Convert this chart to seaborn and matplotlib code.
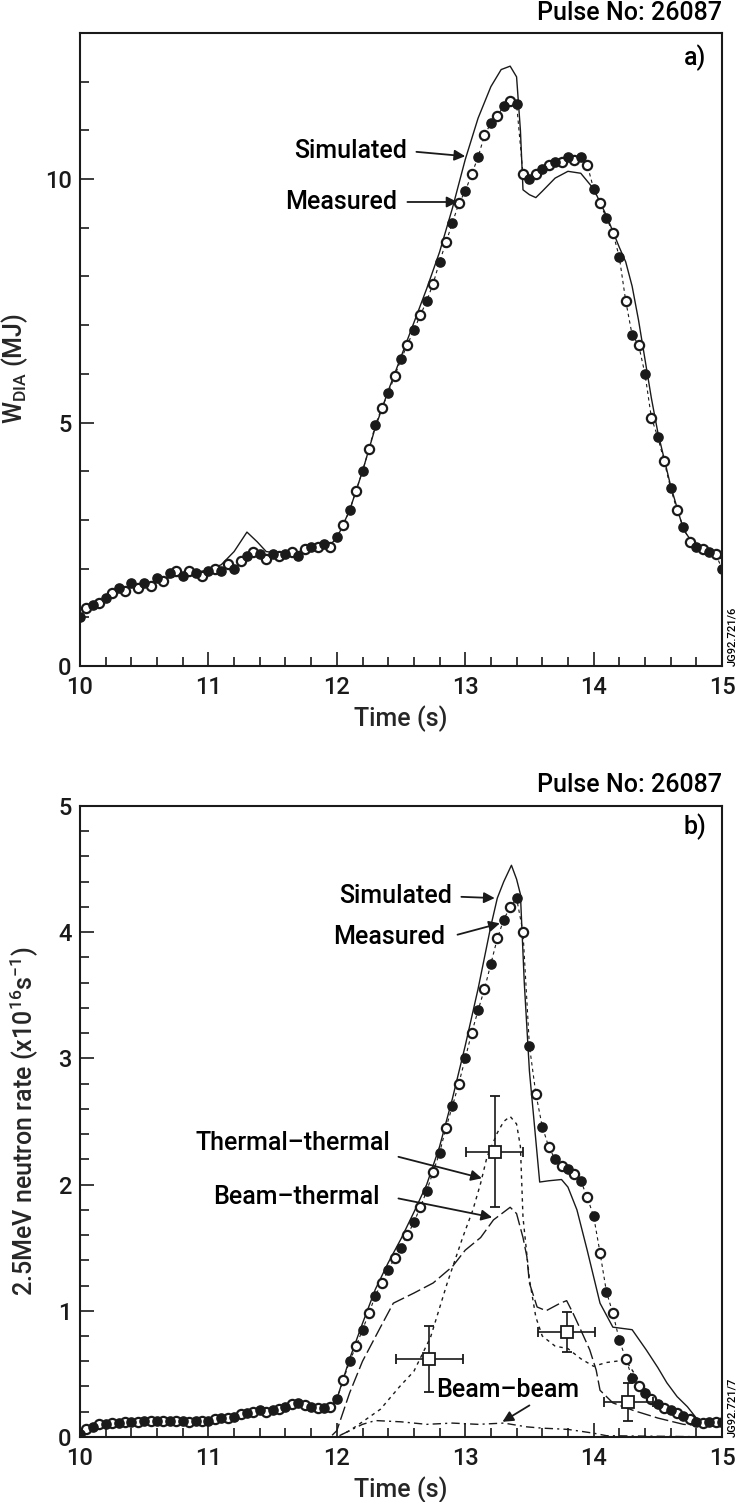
import numpy as np
import pandas as pd
import matplotlib
matplotlib.use("Agg")
import matplotlib.pyplot as plt
from matplotlib.ticker import MultipleLocator
import seaborn as sns

# ---------------- panel a) : diamagnetic energy ----------------
a_meas_t = [10.00, 10.05, 10.10, 10.15, 10.20, 10.25, 10.30, 10.35, 10.40, 10.45,
            10.50, 10.55, 10.60, 10.65, 10.70, 10.75, 10.80, 10.85, 10.90, 10.95,
            11.00, 11.05, 11.10, 11.15, 11.20, 11.25, 11.30, 11.35, 11.40, 11.45,
            11.50, 11.55, 11.60, 11.65, 11.70, 11.75, 11.80, 11.85, 11.90, 11.95,
            12.00, 12.05, 12.10, 12.15, 12.20, 12.25, 12.30, 12.35, 12.40, 12.45,
            12.50, 12.55, 12.60, 12.65, 12.70, 12.75, 12.80, 12.85, 12.90, 12.95,
            13.00, 13.05, 13.10, 13.15, 13.20, 13.25, 13.30, 13.35, 13.40, 13.45,
            13.50, 13.55, 13.60, 13.65, 13.70, 13.75, 13.80, 13.85, 13.90, 13.95,
            14.00, 14.05, 14.10, 14.15, 14.20, 14.25, 14.30, 14.35, 14.40, 14.45,
            14.50, 14.55, 14.60, 14.65, 14.70, 14.75, 14.80, 14.85, 14.90, 14.95,
            15.00]
a_meas_w = [1.00, 1.20, 1.25, 1.30, 1.40, 1.50, 1.60, 1.55, 1.70, 1.60,
            1.70, 1.65, 1.80, 1.75, 1.90, 1.95, 1.85, 1.95, 1.90, 1.85,
            1.95, 2.00, 1.95, 2.10, 2.00, 2.15, 2.25, 2.35, 2.30, 2.20,
            2.30, 2.25, 2.30, 2.35, 2.25, 2.40, 2.45, 2.45, 2.50, 2.45,
            2.65, 2.90, 3.20, 3.60, 4.00, 4.45, 4.95, 5.30, 5.60, 5.95,
            6.30, 6.60, 6.90, 7.20, 7.50, 7.85, 8.30, 8.70, 9.10, 9.50,
            9.75, 10.10, 10.45, 10.90, 11.15, 11.30, 11.50, 11.60, 11.55, 10.10,
            10.00, 10.10, 10.20, 10.30, 10.35, 10.35, 10.45, 10.40, 10.45, 10.30,
            9.80, 9.50, 9.20, 8.90, 8.40, 7.50, 6.80, 6.60, 6.00, 5.10,
            4.70, 4.20, 3.65, 3.20, 2.85, 2.55, 2.45, 2.40, 2.35, 2.30,
            2.00]
a_sim_t = [10.0, 10.2, 10.4, 10.6, 10.8, 11.0, 11.1, 11.2, 11.3, 11.38, 11.45,
           11.6, 11.8, 11.95, 12.0, 12.1, 12.2, 12.3, 12.4, 12.5, 12.6, 12.7,
           12.8, 12.9, 13.0, 13.1, 13.2, 13.28, 13.35, 13.40, 13.43, 13.45,
           13.50, 13.55, 13.60, 13.70, 13.80, 13.90, 14.00, 14.10, 14.20,
           14.25, 14.30, 14.35, 14.40, 14.45, 14.50, 14.60, 14.70, 14.80,
           14.90, 15.00]
a_sim_w = [1.05, 1.40, 1.62, 1.75, 1.88, 1.97, 2.08, 2.35, 2.75, 2.55, 2.35,
           2.30, 2.40, 2.50, 2.62, 3.20, 4.00, 4.90, 5.65, 6.35, 7.05, 7.75,
           8.50, 9.40, 10.40, 11.25, 11.90, 12.25, 12.32, 12.10, 11.00, 9.78,
           9.68, 9.62, 9.75, 10.02, 10.16, 10.12, 9.80, 9.25, 8.60,
           8.30, 7.80, 7.10, 6.30, 5.50, 4.80, 3.70, 2.80, 2.42,
           2.30, 2.20]

# ---------------- panel b) : 2.5 MeV neutron rate ----------------
b_meas_t = a_meas_t
b_meas_r = [0.02, 0.06, 0.08, 0.10, 0.10, 0.11, 0.11, 0.12, 0.12, 0.12,
            0.13, 0.13, 0.13, 0.13, 0.13, 0.13, 0.13, 0.12, 0.13, 0.13,
            0.13, 0.14, 0.15, 0.15, 0.16, 0.18, 0.19, 0.20, 0.21, 0.20,
            0.21, 0.22, 0.24, 0.26, 0.27, 0.25, 0.24, 0.23, 0.23, 0.24,
            0.30, 0.45, 0.60, 0.72, 0.85, 0.98, 1.12, 1.22, 1.32, 1.42,
            1.50, 1.60, 1.70, 1.82, 1.95, 2.10, 2.25, 2.45, 2.62, 2.80,
            3.00, 3.20, 3.38, 3.55, 3.75, 3.95, 4.10, 4.20, 4.27, 4.00,
            3.10, 2.72, 2.46, 2.30, 2.20, 2.15, 2.12, 2.08, 2.03, 1.90,
            1.75, 1.46, 1.15, 0.98, 0.77, 0.62, 0.47, 0.40, 0.35, 0.30,
            0.26, 0.23, 0.21, 0.19, 0.17, 0.14, 0.12, 0.11, 0.12, 0.12,
            0.12]
b_sim_t = [10.0, 10.1, 10.3, 10.6, 11.0, 11.3, 11.7, 11.95, 12.0, 12.1, 12.2,
           12.3, 12.4, 12.5, 12.6, 12.7, 12.8, 12.9, 13.0, 13.1, 13.2, 13.25,
           13.3, 13.36, 13.40, 13.43, 13.46, 13.50, 13.55, 13.58, 13.65, 13.75,
           13.80, 13.87, 13.95, 14.05, 14.15, 14.30, 14.41, 14.50, 14.57,
           14.65, 14.73, 14.80, 14.90, 15.00]
b_sim_r = [0.02, 0.08, 0.11, 0.13, 0.13, 0.19, 0.27, 0.23, 0.30, 0.62, 0.90,
           1.17, 1.38, 1.57, 1.78, 2.00, 2.30, 2.68, 3.10, 3.55, 4.05, 4.27,
           4.40, 4.53, 4.42, 4.30, 3.60, 2.90, 2.35, 2.02, 2.03, 2.04,
           1.98, 1.80, 1.48, 1.06, 0.87, 0.85, 0.69, 0.55, 0.43,
           0.32, 0.24, 0.15, 0.11, 0.11]
bt_t = [10.0, 11.95, 12.0, 12.05, 12.1, 12.2, 12.34, 12.44, 12.6, 12.75, 12.9,
        13.0, 13.12, 13.22, 13.35, 13.4, 13.45, 13.48, 13.5, 13.56, 13.63,
        13.74, 13.79, 13.84, 13.89, 13.97, 14.02, 14.05, 14.15, 14.31, 14.5,
        14.7, 15.0]
bt_r = [0.0, 0.0, 0.05, 0.20, 0.35, 0.60, 0.87, 1.06, 1.14, 1.22, 1.35,
        1.48, 1.58, 1.72, 1.82, 1.77, 1.58, 1.43, 1.22, 1.03, 1.00,
        1.06, 1.08, 0.98, 0.87, 0.69, 0.53, 0.37, 0.27, 0.21, 0.15,
        0.10, 0.08]
tt_t = [10.0, 12.0, 12.1, 12.2, 12.34, 12.49, 12.6, 12.73, 12.86, 12.98, 13.06,
        13.12, 13.17, 13.25, 13.3, 13.35, 13.4, 13.43, 13.45, 13.5, 13.55,
        13.6, 13.7, 13.8, 13.9, 14.0, 14.1, 14.25, 14.35, 14.45, 14.6, 14.8,
        15.0]
tt_r = [0.0, 0.0, 0.05, 0.12, 0.22, 0.40, 0.52, 0.79, 1.22, 1.58, 1.80,
        2.01, 2.22, 2.41, 2.50, 2.54, 2.48, 2.30, 1.74, 1.25, 0.95,
        0.80, 0.72, 0.70, 0.62, 0.56, 0.59, 0.61, 0.45, 0.32, 0.20, 0.12,
        0.10]
bb_t = [10.0, 12.0, 12.1, 12.2, 12.3, 12.5, 12.7, 12.9, 13.1, 13.3, 13.48,
        13.6, 13.8, 14.0, 14.1, 15.0]
bb_r = [0.0, 0.0, 0.05, 0.10, 0.13, 0.12, 0.10, 0.11, 0.10, 0.11, 0.08,
        0.07, 0.06, 0.03, 0.01, 0.0]
# neutron-spectrometer points with error bars
err_t = [12.72, 13.23, 13.79, 14.27]
err_r = [0.62, 2.26, 0.83, 0.28]
err_dt = [0.26, 0.22, 0.22, 0.19]
err_dr = [0.26, 0.44, 0.16, 0.15]

pulse_label = "Pulse No: 26087"

# ---------------- style ----------------
sns.set_theme(style="ticks")
plt.rcParams['font.family'] = ['Roboto', 'Liberation Sans', 'DejaVu Sans']
plt.rcParams['font.weight'] = 'medium'
plt.rcParams['axes.labelweight'] = 'medium'
plt.rcParams['mathtext.fontset'] = 'custom'
plt.rcParams['mathtext.rm'] = 'Roboto:medium'
plt.rcParams['mathtext.it'] = 'Roboto:italic'
plt.rcParams['mathtext.bf'] = 'Roboto:bold'
plt.rcParams['axes.edgecolor'] = 'black'
plt.rcParams['text.color'] = 'black'

fig = plt.figure(figsize=(7.39, 15.02), dpi=100)
ax1 = fig.add_axes([0.1083, 0.5566, 0.8687, 0.4214])
ax2 = fig.add_axes([0.1083, 0.0433, 0.8687, 0.4201])

FS = 18


def style_axes(ax, ymax, ymaj, ymin):
    ax.set_xlim(10, 15)
    ax.set_ylim(0, ymax)
    ax.xaxis.set_major_locator(MultipleLocator(1))
    ax.xaxis.set_minor_locator(MultipleLocator(0.2))
    ax.yaxis.set_major_locator(MultipleLocator(ymaj))
    ax.yaxis.set_minor_locator(MultipleLocator(ymin))
    ax.tick_params(which='both', direction='in', top=False, right=False,
                   width=1.2, color='k', labelsize=17, labelcolor='k')
    ax.tick_params(axis='x', pad=7)
    ax.tick_params(axis='y', pad=6)
    ax.tick_params(which='major', length=10)
    ax.tick_params(which='minor', length=6.5)
    for s in ax.spines.values():
        s.set_visible(True)
        s.set_linewidth(1.5)
        s.set_color('k')
    ax.grid(False)
    ax.set_facecolor('white')


def bold_ticks(ax):
    for lab in ax.get_xticklabels() + ax.get_yticklabels():
        lab.set_fontweight('medium')


def draw_measured(ax, t, v):
    df = pd.DataFrame({'t': t, 'v': v})
    sns.lineplot(data=df, x='t', y='v', ax=ax, color='k', lw=0.8,
                 linestyle=(0, (3, 3)), estimator=None, sort=False, zorder=2)
    sns.scatterplot(data=df.iloc[1::2], x='t', y='v', ax=ax, marker='o', s=44,
                    facecolor='white', edgecolor='k', linewidth=1.6, zorder=4)
    sns.scatterplot(data=df.iloc[0::2], x='t', y='v', ax=ax, marker='o', s=44,
                    color='k', edgecolor='k', linewidth=1.0, zorder=5)


def line(ax, t, v, ls, lw=1.0):
    df = pd.DataFrame({'t': t, 'v': v})
    sns.lineplot(data=df, x='t', y='v', ax=ax, color='k', lw=lw,
                 linestyle=ls, estimator=None, sort=False, zorder=3)


def label_arrow(ax, text, txy, start, tip):
    ax.text(txy[0], txy[1], text, ha='right', va='center', fontsize=FS, zorder=6)
    ax.annotate('', xy=tip, xytext=start,
                arrowprops=dict(arrowstyle='-|>', color='k', lw=1.3,
                                mutation_scale=16, shrinkA=0, shrinkB=0),
                zorder=6)


# ---- panel a ----
style_axes(ax1, 13, 5, 1)
line(ax1, a_sim_t, a_sim_w, '-', lw=1.0)
draw_measured(ax1, a_meas_t, a_meas_w)
ax1.set_xlabel('Time (s)', fontsize=FS, labelpad=5, fontweight='medium')
ax1.set_ylabel(r'W$_{\rm DIA}$ (MJ)', fontsize=FS, fontweight='medium')
ax1.yaxis.set_label_coords(-0.078, 0.47)
ax1.text(1.0, 1.012, pulse_label, transform=ax1.transAxes, ha='right',
         va='bottom', fontsize=FS)
ax1.text(0.975, 0.982, 'a)', transform=ax1.transAxes, ha='right', va='top',
         fontsize=FS)
ax1.text(1.008, 0.0, 'JG92.721/6', transform=ax1.transAxes, rotation=90,
         ha='left', va='bottom', fontsize=8)
label_arrow(ax1, 'Simulated', (12.55, 10.58), (12.62, 10.56), (13.0, 10.47))
label_arrow(ax1, 'Measured', (12.47, 9.53), (12.55, 9.53), (12.94, 9.53))
bold_ticks(ax1)

# ---- panel b ----
style_axes(ax2, 5, 1, 0.2)
line(ax2, bb_t, bb_r, (0, (6, 3, 1.5, 3)), lw=1.0)
line(ax2, tt_t, tt_r, (0, (2.5, 3)), lw=1.0)
line(ax2, bt_t, bt_r, (0, (10, 3)), lw=1.0)
line(ax2, b_sim_t, b_sim_r, '-', lw=1.0)
draw_measured(ax2, b_meas_t, b_meas_r)
ax2.errorbar(err_t, err_r, xerr=err_dt, yerr=err_dr, fmt='s', ms=9,
             mfc='white', mec='k', mew=1.3, ecolor='k', elinewidth=1.2,
             capsize=3.5, capthick=1.2, zorder=7)
ax2.set_xlabel('Time (s)', fontsize=FS, labelpad=5, fontweight='medium')
ax2.set_ylabel(r'2.5MeV neutron rate (x10$^{16}$s$^{-1}$)', fontsize=FS,
               fontweight='medium')
ax2.yaxis.set_label_coords(-0.062, 0.5)
ax2.text(1.0, 1.015, pulse_label, transform=ax2.transAxes, ha='right',
         va='bottom', fontsize=FS)
ax2.text(0.975, 0.988, 'b)', transform=ax2.transAxes, ha='right', va='top',
         fontsize=FS)
ax2.text(1.008, 0.0, 'JG92.721/7', transform=ax2.transAxes, rotation=90,
         ha='left', va='bottom', fontsize=8)
label_arrow(ax2, 'Simulated', (12.9, 4.29), (12.97, 4.28), (13.23, 4.27))
label_arrow(ax2, 'Measured', (12.84, 3.96), (12.94, 3.98), (13.27, 4.07))
label_arrow(ax2, 'Thermal\u2013thermal', (12.42, 2.33), (12.48, 2.22), (13.13, 2.05))
label_arrow(ax2, 'Beam\u2013thermal', (12.33, 1.90), (12.48, 1.89), (13.21, 1.74))
ax2.text(13.33, 0.37, 'Beam\u2013beam', ha='center', va='center', fontsize=FS, zorder=6)
ax2.annotate('', xy=(13.29, 0.12), xytext=(13.5, 0.25),
             arrowprops=dict(arrowstyle='-|>', color='k', lw=1.3,
                             mutation_scale=16, shrinkA=0, shrinkB=0), zorder=6)
bold_ticks(ax2)

fig.savefig('out.png', dpi=100, facecolor='white')
